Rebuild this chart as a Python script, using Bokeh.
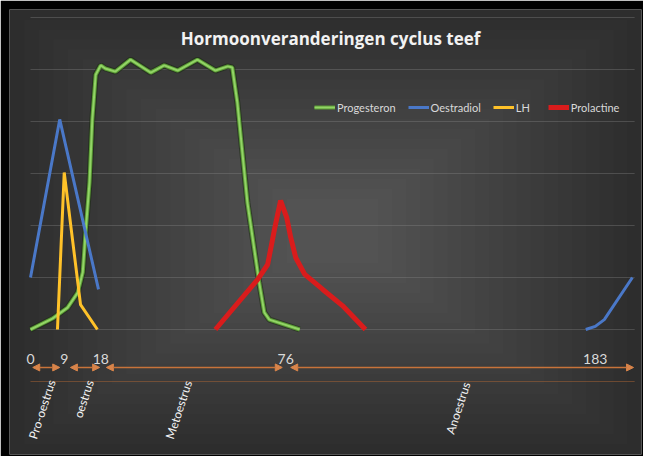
from bokeh.plotting import figure
from bokeh.models import (Range1d, Legend, LegendItem, Arrow, NormalHead,
                          BoxAnnotation, ColumnDataSource)
from bokeh.core.properties import value
from bokeh.embed import file_html
from bokeh.resources import INLINE

nan = float("nan")

# ---------------- data (x = position along the cycle axis, y = relative level) -------------
progesteron_x = [0, 3.9, 6.6, 8.4, 9.3, 9.8, 10.5, 11.0, 11.6, 12.5, 13.3, 15.1, 17.8, 21.4,
                 23.8, 26.2, 29.7, 32.9, 35.1, 35.9, 36.8, 38.6, 40.7, 41.6, 42.5, 47.9]
progesteron_y = [0, 0.21, 0.42, 0.71, 1.10, 1.87, 2.83, 4.04, 4.90, 5.08, 5.02, 4.96, 5.19, 4.94,
                 5.08, 4.98, 5.19, 4.98, 5.06, 5.04, 4.37, 2.44, 0.90, 0.33, 0.19, 0.0]

oestradiol_x = [0, 5.2, 12.1, nan, 98.8, 100.5, 102.1, 107.1]
oestradiol_y = [1.0, 4.04, 0.77, nan, 0.0, 0.06, 0.19, 1.0]

lh_x = [4.8, 6.0, 8.9, 11.9]
lh_y = [0, 3.02, 0.48, 0]

prolactine_x = [32.9, 40.4, 42.2, 43.4, 44.5, 45.6, 46.3, 47.2, 48.8, 52.0, 55.5, 59.6]
prolactine_y = [0, 0.96, 1.25, 1.92, 2.48, 2.15, 1.77, 1.38, 1.06, 0.77, 0.46, 0]

day_labels = ["0", "9", "18", "76", "183"]
day_label_pos = [0, 6.0, 12.5, 45.4, 100.5]

phases = ["Pro-oestrus", "oestrus", "Metoestrus", "Anoestrus"]
phase_start = [0.4, 7.1, 13.5, 46.3]
phase_end = [5.2, 12.3, 44.8, 107.3]

grid_levels = [0, 1, 2, 3, 4, 5, 6]

# ---------------- layout constants ----------------
X0, X1 = -3.737, 108.72
Y0, Y1 = -2.404, 6.154
GRID_X0, GRID_X1 = 0, 107.5
LABEL_Y = -0.577
ARROW_Y = -0.73
PHASE_LABEL_X = [0.36, 8.4, 24.7, 74.6]
PHASE_LABEL_Y = [-2.096, -1.692, -2.096, -2.0]

p = figure(width=643, height=456, output_backend="svg", toolbar_location=None,
           x_range=Range1d(X0, X1), y_range=Range1d(Y0, Y1),
           x_axis_location=None, y_axis_location=None,
           min_border_left=9, min_border_top=9, min_border_right=2, min_border_bottom=2,
           border_fill_color="black", background_fill_color="#2b2b2b",
           outline_line_color=None)
p.grid.visible = False

# soft radial-like light in the middle of the dark background
N = 20
cx, cy = 54.0, 1.9
for i in range(N):
    f = i / N
    p.add_layout(BoxAnnotation(left=X0 + (cx - X0) * f * 0.9, right=X1 - (X1 - cx) * f * 0.9,
                               bottom=Y0 + (cy - Y0) * f * 0.9, top=Y1 - (Y1 - cy) * f * 0.9,
                               fill_color="white", fill_alpha=0.012, line_alpha=0,
                               level="underlay"))

# grid lines
p.segment(x0=GRID_X0, x1=GRID_X1, y0=grid_levels, y1=grid_levels,
          line_color="#8a8a8a", line_alpha=0.35, line_width=1)
p.segment(x0=GRID_X0, x1=GRID_X1, y0=-1, y1=-1,
          line_color="#b86a35", line_alpha=0.45, line_width=1)

# series
g_shadow = p.line(progesteron_x, progesteron_y, line_color="#1a2a10", line_width=6, line_alpha=0.55)
g_out = p.line(progesteron_x, progesteron_y, line_color="#5a9a35", line_width=4)
g_in = p.line(progesteron_x, progesteron_y, line_color="#92d466", line_width=2)

b_r = p.line(oestradiol_x, oestradiol_y, line_color="#4a78c8", line_width=3)
y_r = p.line(lh_x, lh_y, line_color="#ffc229", line_width=3)
r_r = p.line(prolactine_x, prolactine_y, line_color="#d91c1c", line_width=5)

legend = Legend(items=[LegendItem(label="Progesteron", renderers=[g_out, g_in]),
                       LegendItem(label="Oestradiol", renderers=[b_r]),
                       LegendItem(label="LH", renderers=[y_r]),
                       LegendItem(label="Prolactine", renderers=[r_r])],
                orientation="horizontal", location=(305, 337),
                glyph_width=21, glyph_height=20, label_standoff=2, spacing=12,
                padding=0, margin=0, border_line_alpha=0, background_fill_alpha=0,
                label_text_font="Lato", label_text_font_size="11px",
                label_text_color="#d9d9d9")
p.add_layout(legend, "center")

# title
p.text(x=[53.4], y=[5.596], text=["Hormoonveranderingen cyclus teef"],
       text_font=value("Open Sans"), text_font_style="bold", text_font_size="17px",
       text_color="#f2f2f2", text_align="center", text_baseline="alphabetic")

# day labels
p.text(x=day_label_pos, y=[LABEL_Y] * len(day_labels), text=day_labels,
       text_font=value("Lato"), text_font_size="14px", text_color="#d9d9d9",
       text_align="center", text_baseline="alphabetic")

# phase arrows
arr_src = ColumnDataSource(dict(x0=phase_start, x1=phase_end,
                                y=[ARROW_Y] * len(phases)))
p.add_layout(Arrow(source=arr_src, x_start="x0", y_start="y", x_end="x1", y_end="y",
                   line_color="#c8733a", line_width=1.5,
                   start=NormalHead(size=7, fill_color="#d8844a", line_color="#d8844a"),
                   end=NormalHead(size=7, fill_color="#d8844a", line_color="#d8844a")))

# phase labels
p.text(x=PHASE_LABEL_X, y=PHASE_LABEL_Y, text=phases, angle=72, angle_units="deg",
       text_font=value("Lato"), text_font_size="12px", text_color="#f2f2f2",
       text_align="left", text_baseline="middle")

open("out.html", "w").write(file_html(p, INLINE))
